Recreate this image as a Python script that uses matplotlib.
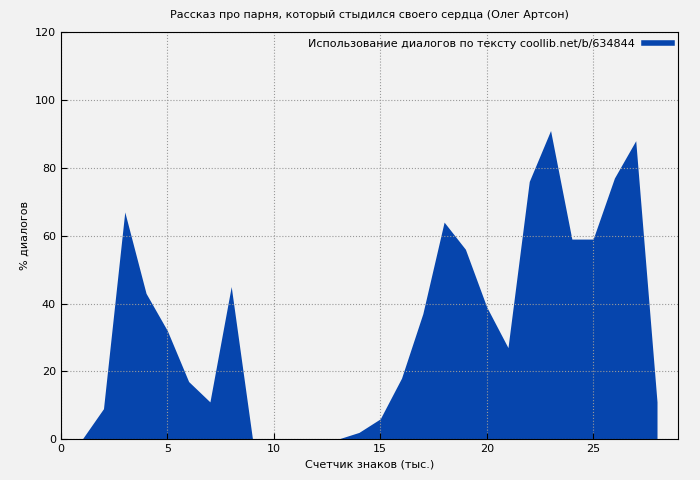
import matplotlib
matplotlib.use("Agg")
import matplotlib.pyplot as plt

# Counter of characters (thousands) and share of dialogues, %
chars_k = list(range(1, 29))
dialog_pct = [0, 9, 67, 43, 32, 17, 11, 45, 0, 0, 0, 0, 0, 2, 6, 18, 37, 64,
              56, 39, 27, 76, 91, 59, 59, 77, 88, 11]

fill_color = "#0645ad"
bg = "#f2f2f2"

fig = plt.figure(figsize=(7, 4.8), dpi=100, facecolor=bg)
ax = fig.add_axes([0.087, 0.085, 0.882, 0.848], facecolor=bg)

ax.fill_between(chars_k, dialog_pct, 0, color=fill_color, linewidth=0,
                label="Использование диалогов по тексту coollib.net/b/634844")

ax.set_xlim(0, 29)
ax.set_ylim(0, 120)
ax.set_xticks([0, 5, 10, 15, 20, 25])
ax.set_yticks(range(0, 121, 20))
ax.tick_params(labelsize=8, direction="in", length=4)
ax.grid(True, color="#999999", linestyle=":", linewidth=0.8)

ax.set_title("Рассказ про парня, который стыдился своего сердца (Олег Артсон)", fontsize=8, pad=10)
ax.set_xlabel("Счетчик знаков (тыс.)", fontsize=8)
ax.set_ylabel("% диалогов", fontsize=8)

handle = plt.Line2D([], [], color=fill_color, linewidth=4)
leg = ax.legend([handle], ["Использование диалогов по тексту coollib.net/b/634844"],
                loc="upper right", fontsize=8, frameon=False, markerfirst=False,
                handlelength=2.5, borderaxespad=0.2)

fig.savefig("out.png", dpi=100, facecolor=bg)
